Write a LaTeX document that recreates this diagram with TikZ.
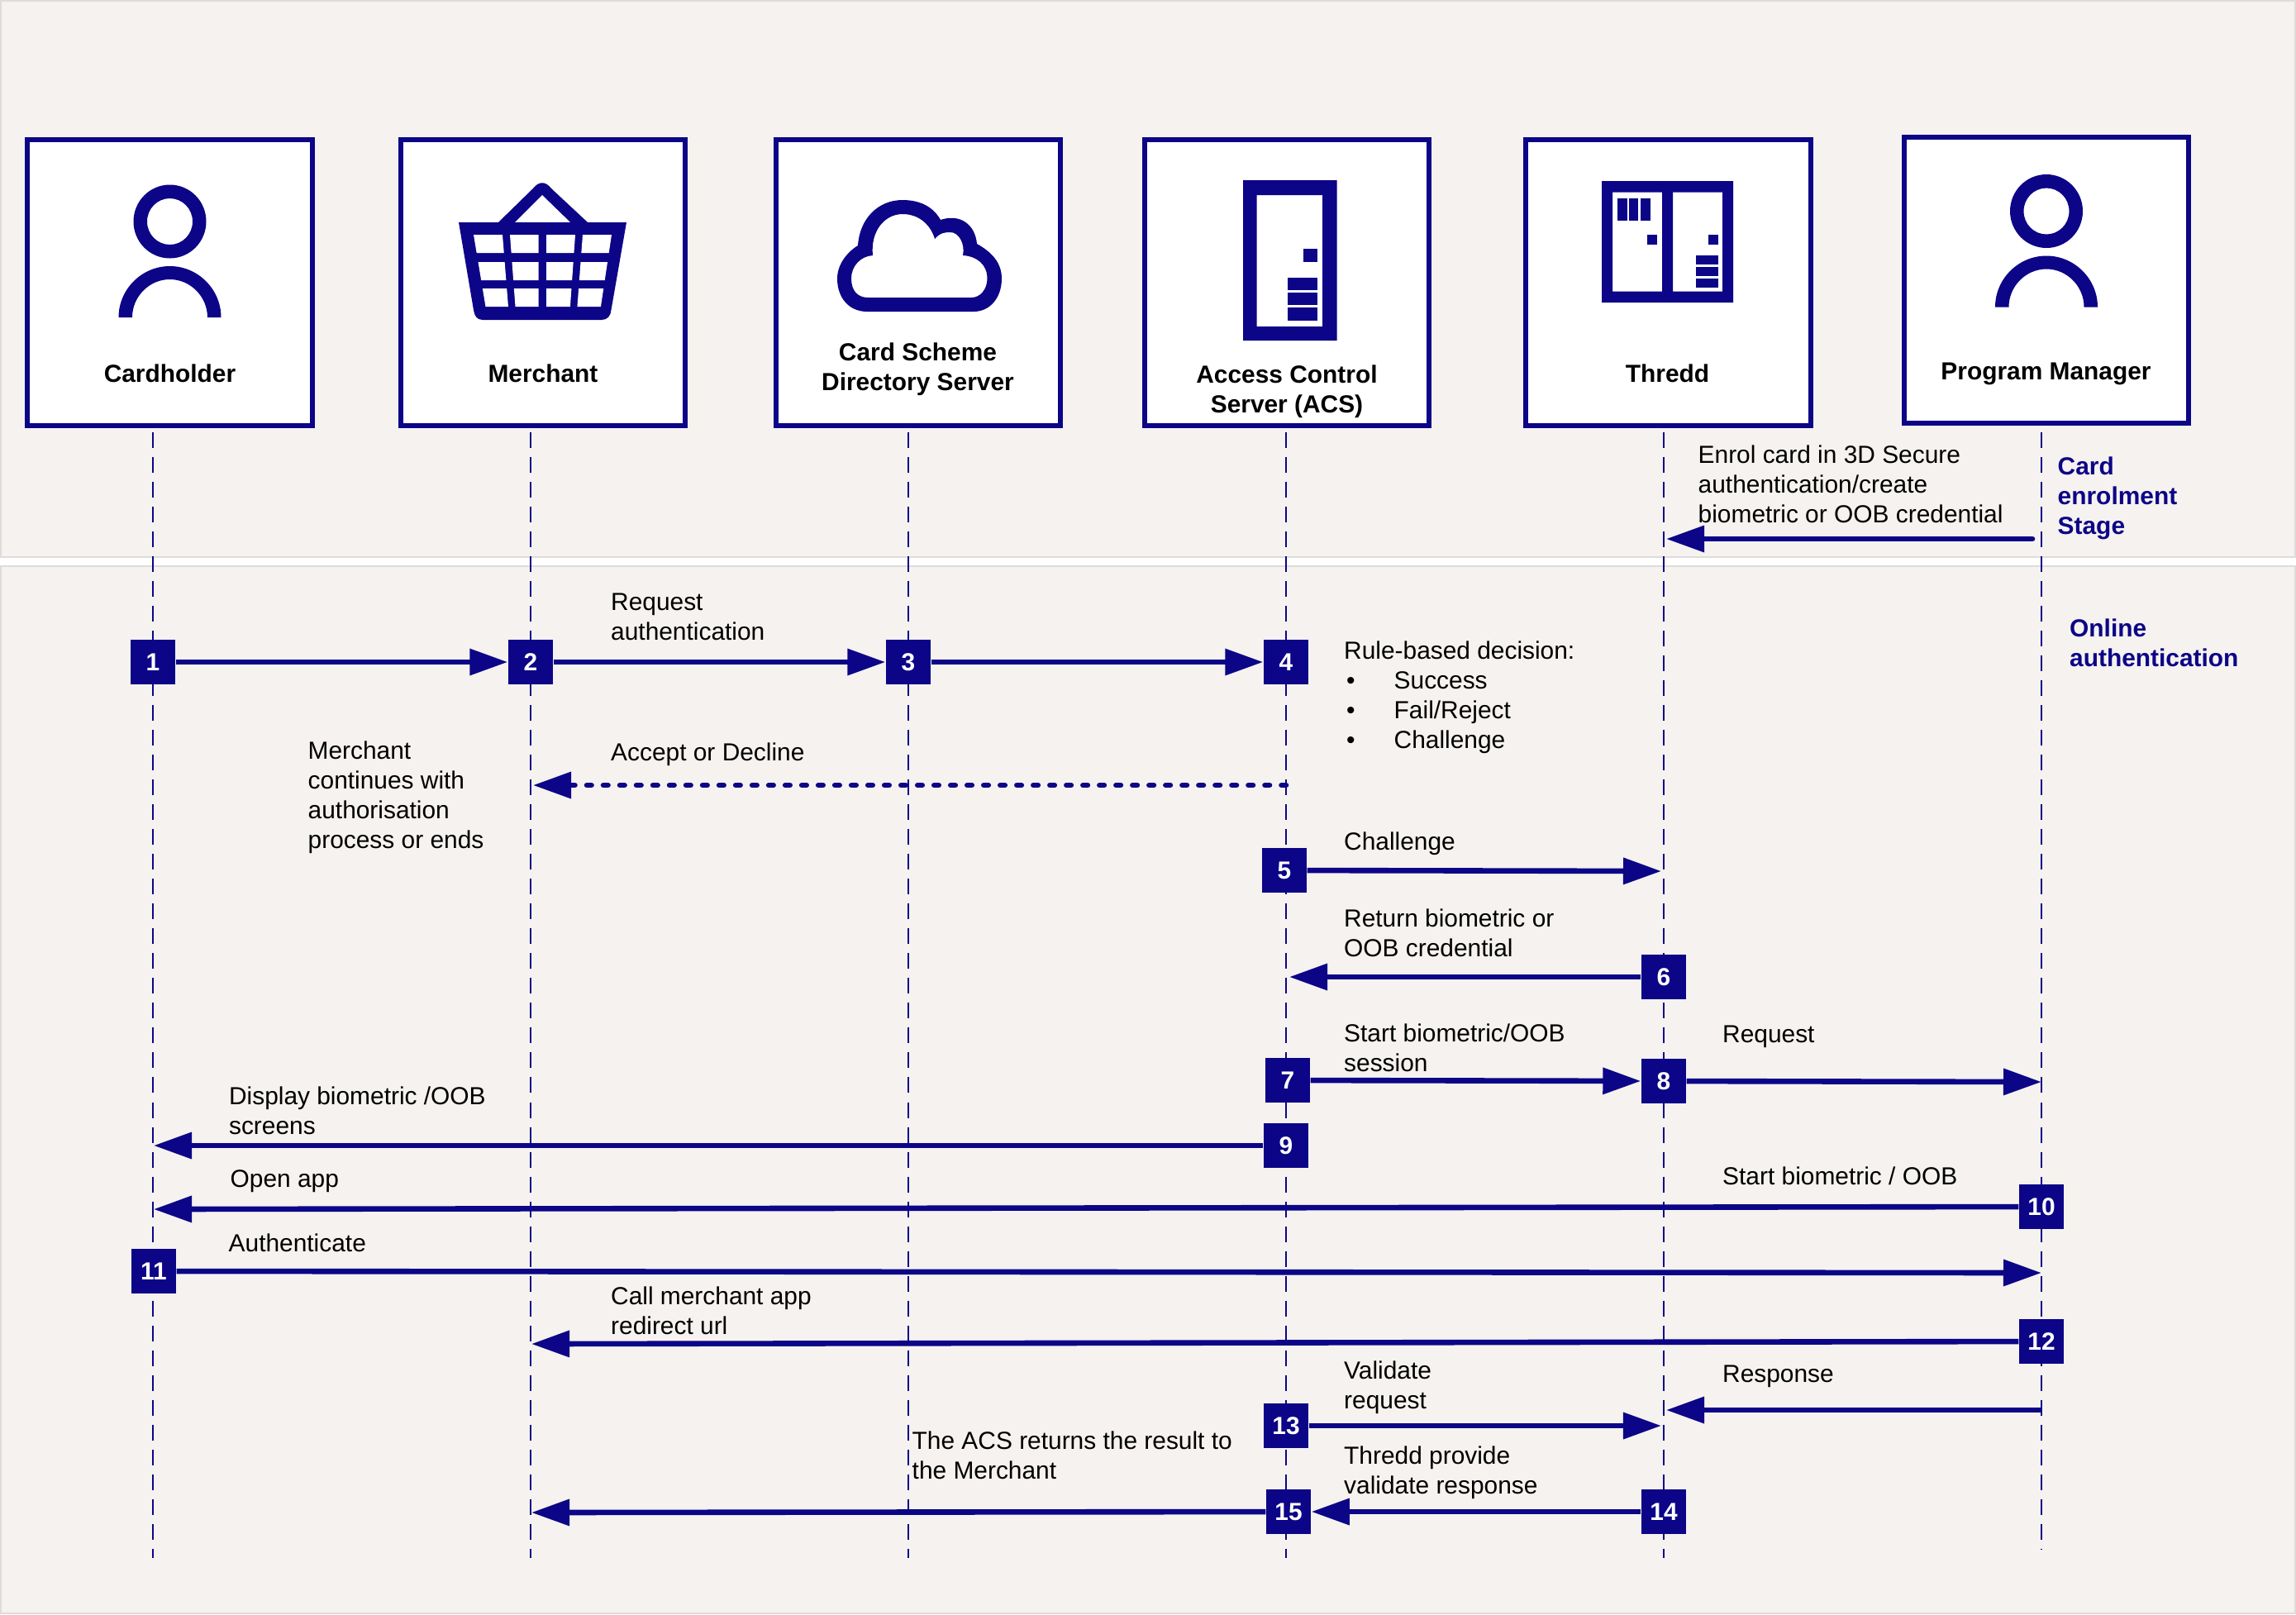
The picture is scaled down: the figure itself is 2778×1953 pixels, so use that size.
\documentclass[tikz,border=0pt]{standalone}
\usepackage{fontspec}
\setmainfont{Liberation Sans}
\usetikzlibrary{arrows.meta}
\definecolor{navy}{HTML}{0C0587}
\definecolor{panel}{HTML}{F5F2EF}
\definecolor{rim}{HTML}{DEDCDA}
\tikzset{
  x=0.01cm,y=-0.01cm,
  panelbg/.style={fill=panel,draw=rim,line width=0.02cm},
  actor/.style={draw=navy,fill=white,line width=0.065cm},
  life/.style={draw=navy,line width=0.024cm,dash pattern=on 0.19cm off 0.11cm},
  msg/.style={draw=navy,line width=0.066cm,-{Triangle[length=0.46cm,width=0.31cm,fill=navy]}},
  num/.style={fill=navy,text=white,minimum size=0.54cm,inner sep=0pt,font=\fontsize{8.5}{10.2}\selectfont\bfseries},
  lab/.style={anchor=west,align=left,inner sep=0pt,font=\fontsize{8.5}{10.24}\selectfont},
  boxlab/.style={align=center,inner sep=0pt,font=\fontsize{8.5}{10.24}\selectfont\bfseries},
  stage/.style={anchor=west,align=left,inner sep=0pt,text=navy,font=\fontsize{8.5}{10.24}\selectfont\bfseries},
}
\newcommand{\personicon}[2]{%
  \begin{scope}[shift={(#1,#2)}]
    \fill[navy,even odd rule] (0,0) ellipse [x radius=44,y radius=44.5] (0,0) ellipse [x radius=27.5,y radius=28];
    \fill[navy] (-62,116) .. controls (-62,82) and (-34,54) .. (0,54) .. controls (34,54) and (62,82) .. (62,116)
      -- (45.5,116) .. controls (45.5,91) and (25,70) .. (0,70) .. controls (-25,70) and (-45.5,91) .. (-45.5,116) -- cycle;
  \end{scope}}
\begin{document}
\begin{tikzpicture}
\useasboundingbox (0,0) rectangle (2778,1953);
% panels
\fill[white] (0,0) rectangle (2778,1953);
\path[panelbg] (1,1) rectangle (2777,674);
\path[panelbg] (1,685) rectangle (2777,1952);
% actor boxes
\path[actor] (33,169) rectangle (378,515);
\path[actor] (485,169) rectangle (829,515);
\path[actor] (939,169) rectangle (1283,515);
\path[actor] (1385,169) rectangle (1729,515);
\path[actor] (1846,169) rectangle (2191,515);
\path[actor] (2304,166) rectangle (2648,512);
% actor labels
\node[boxlab] (lCard) at (205.5,452) {Cardholder};
\node[boxlab] (lMerch) at (657,452) {Merchant};
\node[boxlab] (lDS) at (1110.5,446.5) {Card Scheme\\Directory Server};
\node[boxlab] (lACS) at (1557,473.5) {Access Control\\Server (ACS)};
\node[boxlab] (lThredd) at (2017.5,452) {Thredd};
\node[boxlab] (lPM) at (2475.5,452.5) {Program Manager};
% icons
\personicon{205.5}{268}
\personicon{2476}{255.5}
% basket
\fill[navy] (603,269) -- (645,228) .. controls (652,219) and (660,219) .. (667,228) -- (711,269) -- cycle;
\fill[white] (656,236) -- (623,269) -- (690,269) -- cycle;
\fill[navy] (555,269) -- (758,269) -- (739.5,375) .. controls (739,382) and (735,387) .. (728,387) -- (584,387) .. controls (577,387) and (574,382) .. (573,375) -- cycle;
\foreach \ya/\yb in {284/306,317/339,349/371}{
  \foreach \la/\ls/\ra/\rs in {573/0.167/608/0.08, 617/0.075/651.5/0, 661/0/696/-0.07, 705/-0.075/740/-0.15}{
    \pgfmathsetmacro\xa{\la+\ls*(\ya-284)}
    \pgfmathsetmacro\xb{\ra+\rs*(\ya-284)}
    \pgfmathsetmacro\xc{\ra+\rs*(\yb-284)}
    \pgfmathsetmacro\xd{\la+\ls*(\yb-284)}
    \fill[white] (\xa,\ya) -- (\xb,\ya) -- (\xc,\yb) -- (\xd,\yb) -- cycle;
  }
}
% cloud
\fill[navy,even odd rule]
  (1049,377) .. controls (1027,377) and (1013,360) .. (1013,337) .. controls (1013,320) and (1025,305) .. (1038,297)
  .. controls (1040,265) and (1062,242) .. (1092,242) .. controls (1113,242) and (1129,250) .. (1138,266)
  .. controls (1162,258) and (1180,272) .. (1182,295) .. controls (1200,305) and (1212,318) .. (1212,337)
  .. controls (1212,360) and (1198,377) .. (1178,377) -- cycle
  (1050,360) .. controls (1038,360) and (1030,352) .. (1030,337) .. controls (1030,322) and (1041,310) .. (1056,309)
  .. controls (1053,280) and (1070,259) .. (1092,259) .. controls (1112,259) and (1126,272) .. (1131,289)
  .. controls (1138,281) and (1144,281) .. (1150,281) .. controls (1160,281) and (1168,295) .. (1165,309)
  .. controls (1182,310) and (1194.5,320) .. (1194.5,337) .. controls (1194.5,350) and (1186,360) .. (1175.5,360) -- cycle;
% ACS server
\fill[navy,even odd rule] (1504,218) rectangle (1617.5,412) (1520.5,236) rectangle (1600,395);
\fill[navy] (1577,301) rectangle (1594,317);
\fill[navy] (1558,336) rectangle (1593.5,351);
\fill[navy] (1558,354) rectangle (1593.5,369);
\fill[navy] (1558,372) rectangle (1593.5,388);
% Thredd
\fill[navy,even odd rule] (1938,219) rectangle (2097,366) (1951,232.5) rectangle (2011,352.5) (2024,232.5) rectangle (2084,352.5);
\fill[navy] (1957,240) rectangle (1968.5,267);
\fill[navy] (1971,240) rectangle (1982,267);
\fill[navy] (1985,240) rectangle (1996.5,267);
\fill[navy] (1993,284) rectangle (2005,296);
\fill[navy] (2066.5,284) rectangle (2079,296);
\fill[navy] (2052,308.5) rectangle (2079,320);
\fill[navy] (2052,322.5) rectangle (2079,334);
\fill[navy] (2052,337) rectangle (2079,348);
% lifelines
\foreach \n/\x/\e in {a/185/1885,b/642/1885,c/1099/1885,d/1556/1885,e/2013/1885,f/2470/1874}{
  \coordinate (top\n) at (\x,523);
  \coordinate (bot\n) at (\x,\e);
  \draw[life] (top\n) -- (bot\n);
}
% free arrow ends
\coordinate (s0) at (2459,652);
\coordinate (t0) at (2016,652);
\coordinate (tAD) at (645,950);
\coordinate (sAD) at (1556,950);
\coordinate (t5) at (2010,1054);
\coordinate (t6) at (1560,1182);
\coordinate (t8) at (2470,1309);
\coordinate (t9) at (186,1386);
\coordinate (t10) at (186,1463);
\coordinate (t11) at (2470,1540);
\coordinate (t12) at (643,1626);
\coordinate (sR) at (2470,1706);
\coordinate (tR) at (2016,1706);
\coordinate (t13) at (2010,1725);
\coordinate (t15) at (643,1830);
% number squares
\node[num] (n1) at (185,801) {1};
\node[num] (n2) at (642,801) {2};
\node[num] (n3) at (1099,801) {3};
\node[num] (n4) at (1556,801) {4};
\node[num] (n5) at (1554,1053) {5};
\node[num] (n6) at (2013,1182) {6};
\node[num] (n7) at (1558,1307) {7};
\node[num] (n8) at (2013,1308) {8};
\node[num] (n9) at (1556,1386) {9};
\node[num] (n10) at (2470,1460) {10};
\node[num] (n11) at (186,1538) {11};
\node[num] (n12) at (2470,1623) {12};
\node[num] (n13) at (1556,1725) {13};
\node[num] (n14) at (2013,1829) {14};
\node[num] (n15) at (1559,1829) {15};
% messages
\draw[msg,line cap=round] (s0) -- (t0);
\draw[msg] (n1) -- (n2);
\draw[msg] (n2) -- (n3);
\draw[msg] (n3) -- (n4);
\draw[msg,line cap=round,dash pattern=on 0.055cm off 0.145cm] (sAD) -- (tAD);
\draw[msg] (n5) -- (t5);
\draw[msg] (n6) -- (t6);
\draw[msg] (n7) -- (n8);
\draw[msg] (n8) -- (t8);
\draw[msg] (n9) -- (t9);
\draw[msg] (n10) -- (t10);
\draw[msg] (n11) -- (t11);
\draw[msg] (n12) -- (t12);
\draw[msg] (sR) -- (tR);
\draw[msg] (n13) -- (t13);
\draw[msg] (n14) -- (n15);
\draw[msg] (n15) -- (t15);
% labels
\node[lab] (m0) at (2054,586) {Enrol card in 3D Secure\\authentication/create\\biometric or OOB credential};
\node[stage] (st1) at (2489,602.5) {Card\\enrolment\\Stage};
\node[stage] (st2) at (2503.5,778) {Online\\authentication};
\node[lab] (m1) at (738.5,746) {Request\\authentication};
\node[lab] (m2) at (1625.5,844) {Rule-based decision:\\\makebox[0.605cm][l]{\hspace{0.03cm}•}Success\\\makebox[0.605cm][l]{\hspace{0.03cm}•}Fail/Reject\\\makebox[0.605cm][l]{\hspace{0.03cm}•}Challenge};
\node[lab] (m3) at (372,964.5) {Merchant\\continues with\\authorisation\\process or ends};
\node[lab] (m4) at (738.5,912.5) {Accept or Decline};
\node[lab] (m5) at (1625.5,1020.5) {Challenge};
\node[lab] (m6) at (1625.5,1128.6) {Return biometric or\\OOB credential};
\node[lab] (m7) at (1625.5,1267.6) {Start biometric/OOB\\session};
\node[lab] (m8) at (2083.5,1254.5) {Request};
\node[lab] (m9) at (276.4,1344) {Display biometric /OOB\\screens};
\node[lab] (m10) at (278,1429.5) {Open app};
\node[lab] (m11) at (2083.5,1423) {Start biometric / OOB};
\node[lab] (m12) at (276,1504) {Authenticate};
\node[lab] (m13) at (738.5,1586) {Call merchant app\\redirect url};
\node[lab] (m14) at (1625.5,1678.5) {Validate\\request};
\node[lab] (m15) at (2083.5,1665.5) {Response};
\node[lab] (m16) at (1625.5,1781.5) {Thredd provide\\validate response};
\node[lab] (m17) at (1103,1761) {The ACS returns the result to\\the Merchant};
\end{tikzpicture}
\end{document}
